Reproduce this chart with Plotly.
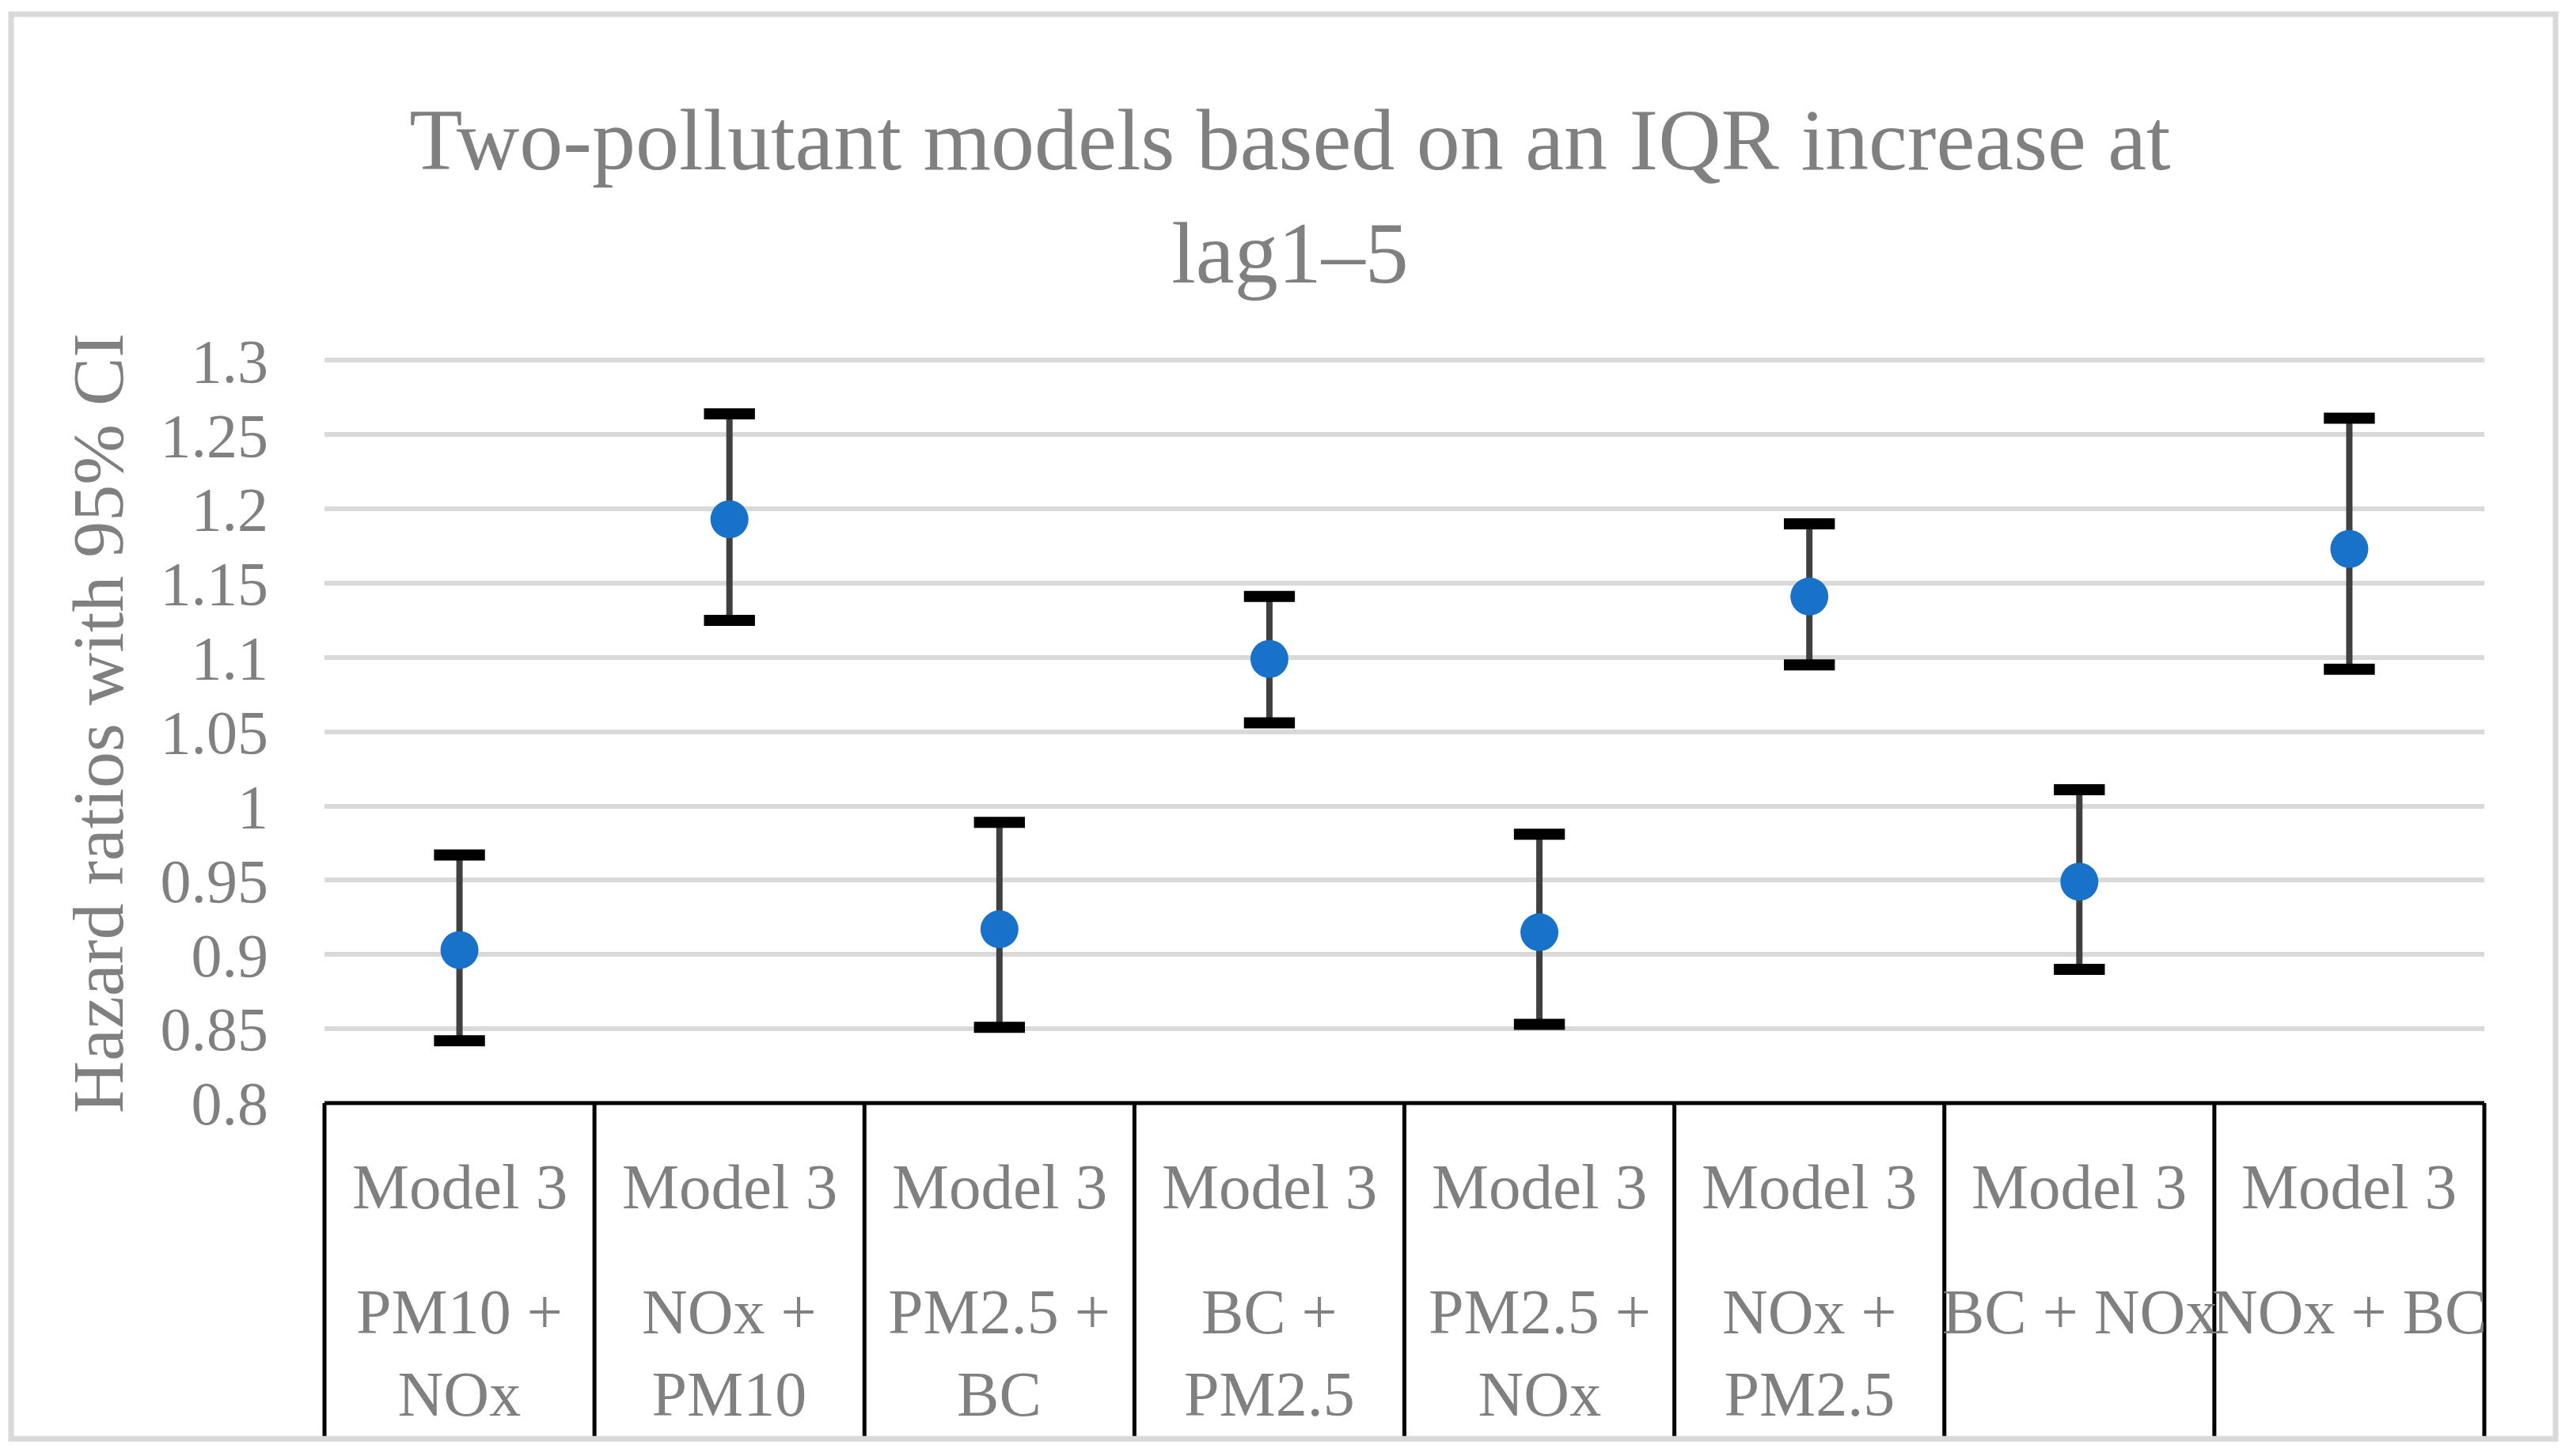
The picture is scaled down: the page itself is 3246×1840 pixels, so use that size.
import plotly.graph_objects as go

# ---------------- data ----------------
categories = ["PM10 + NOx", "NOx + PM10", "PM2.5 + BC", "BC + PM2.5",
              "PM2.5 + NOx", "NOx + PM2.5", "BC + NOx", "NOx + BC"]
model_labels = ["Model 3"] * 8
pair_labels = ["PM10 +<br>NOx", "NOx +<br>PM10", "PM2.5 +<br>BC", "BC +<br>PM2.5",
               "PM2.5 +<br>NOx", "NOx +<br>PM2.5", "BC + NOx", "NOx + BC"]
hr_estimate = [0.903, 1.193, 0.917, 1.099, 0.915, 1.141, 0.949, 1.173]
ci_lower = [0.842, 1.125, 0.851, 1.056, 0.853, 1.095, 0.890, 1.092]
ci_upper = [0.967, 1.264, 0.989, 1.141, 0.981, 1.190, 1.011, 1.261]
y_tickvals = [0.8, 0.85, 0.9, 0.95, 1.0, 1.05, 1.1, 1.15, 1.2, 1.25, 1.3]
y_ticktext = ["0.8", "0.85", "0.9", "0.95", "1", "1.05", "1.1", "1.15", "1.2", "1.25", "1.3"]
title_text = "Two-pollutant models based on an IQR increase at<br>lag1–5"
y_title = "Hazard ratios with 95% CI"

# ---------------- layout geometry (page pixels) ----------------
OFF = 8                      # default body margin of the html page
W, H = 3246 - 2 * OFF, 1840 - 2 * OFF
Y_MIN, Y_MAX = 0.8, 1.305
PX_PER_UNIT = 1878.0
L_pg, R_pg = 410, 3139
B_pg = 1394
T_pg = B_pg - (Y_MAX - Y_MIN) * PX_PER_UNIT
L, R, T, B = L_pg - OFF, R_pg - OFF, T_pg - OFF, B_pg - OFF
pw, ph = R - L, B - T

def px_x(X):
    return (X - OFF - L) / pw

def px_y(Y):
    return (B - (Y - OFF)) / ph

FONT = "Liberation Serif"
GRAY = "#808080"

n = len(categories)
x = list(range(n))
err_plus = [u - e for u, e in zip(ci_upper, hr_estimate)]
err_minus = [e - l for e, l in zip(hr_estimate, ci_lower)]

fig = go.Figure()

# vertical CI lines
fig.add_trace(go.Scatter(
    x=x, y=hr_estimate, mode="markers",
    marker=dict(size=1, color="rgba(0,0,0,0)"),
    error_y=dict(type="data", symmetric=False, array=err_plus, arrayminus=err_minus,
                 color="#404040", thickness=8, width=0),
    showlegend=False, hoverinfo="skip"))

# caps
fig.add_trace(go.Scatter(
    x=x + x, y=ci_upper + ci_lower, mode="markers",
    marker=dict(symbol="line-ew", size=46, line=dict(width=14, color="black")),
    showlegend=False, hoverinfo="skip"))

# estimates
fig.add_trace(go.Scatter(
    x=x, y=hr_estimate, mode="markers",
    marker=dict(size=48, color="#1772C8", line=dict(width=0)),
    showlegend=False))

shapes = []
# chart border
shapes.append(dict(type="rect", xref="paper", yref="paper",
                   x0=px_x(14), x1=px_x(3229), y0=px_y(1818.5), y1=px_y(17.5),
                   line=dict(color="#d9d9d9", width=7), layer="below"))
# category separators
for i in range(n + 1):
    xp = i / n
    shapes.append(dict(type="line", xref="paper", yref="paper",
                       x0=xp, x1=xp, y0=0, y1=px_y(1815),
                       line=dict(color="black", width=5)))
# x axis line
shapes.append(dict(type="line", xref="paper", yref="paper",
                   x0=0, x1=1, y0=0, y1=0, line=dict(color="black", width=5)))

annotations = []
for i in range(n):
    annotations.append(dict(x=x[i], y=px_y(1500), xref="x", yref="paper",
                            text=model_labels[i], showarrow=False,
                            font=dict(family=FONT, size=81, color=GRAY),
                            xanchor="center", yanchor="middle"))
    annotations.append(dict(x=x[i], y=px_y(1662), xref="x", yref="paper",
                            text=pair_labels[i], showarrow=False,
                            font=dict(family=FONT, size=80, color=GRAY),
                            xanchor="center", yanchor="top", yshift=50))
annotations.append(dict(x=px_x(124), y=px_y(914), xref="paper", yref="paper",
                        text=y_title, textangle=-90, showarrow=False,
                        font=dict(family=FONT, size=92, color=GRAY),
                        xanchor="center", yanchor="middle"))

fig.update_layout(
    width=W, height=H,
    margin=dict(l=L, r=W - R, t=T, b=H - B, pad=0),
    paper_bgcolor="white", plot_bgcolor="white",
    title=dict(text=title_text, xref="container", yref="container",
               x=(1630 - OFF) / W, y=1 - 206 / H, xanchor="center", yanchor="middle",
               font=dict(family=FONT, size=110, color=GRAY)),
    xaxis=dict(range=[-0.5, n - 0.5], showgrid=False, showticklabels=False,
               zeroline=False, showline=False, ticks="", fixedrange=True),
    yaxis=dict(range=[Y_MIN, Y_MAX], tickvals=y_tickvals, ticktext=y_ticktext,
               showgrid=True, gridcolor="#d9d9d9", gridwidth=6,
               zeroline=False, showline=False, ticks="",
               ticklabelstandoff=70,
               tickfont=dict(family=FONT, size=78, color=GRAY)),
    shapes=shapes, annotations=annotations,
    showlegend=False,
)

fig.write_html("out.html")
